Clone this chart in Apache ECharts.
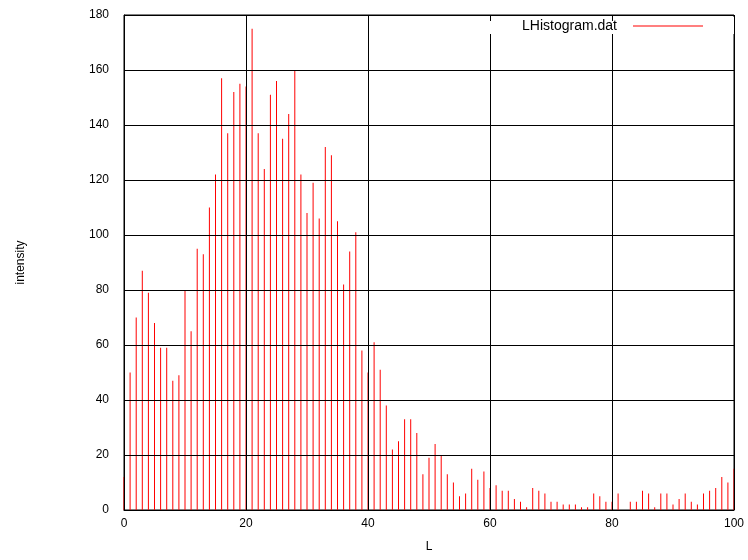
<!DOCTYPE html>
<html>
<head>
<meta charset="utf-8">
<script src="https://cdn.jsdelivr.net/npm/echarts@6/dist/echarts.min.js"></script>
<style>html,body{margin:0;padding:0;background:#fff;}#c{width:748px;height:560px;}</style>
</head>
<body>
<div id="c"></div>
<script>
const L = [0,1,2,3,4,5,6,7,8,9,10,11,12,13,14,15,16,17,18,19,20,21,22,23,24,25,26,27,28,29,30,31,32,33,34,35,36,37,38,39,40,41,42,43,44,45,46,47,48,49,50,51,52,53,54,55,56,57,58,59,60,61,62,63,64,65,66,67,68,69,70,71,72,73,74,75,76,77,78,79,80,81,82,83,84,85,86,87,88,89,90,91,92,93,94,95,96,97,98,99,100];
const intensity = [12,50,70,87,79,68,59,59,47,49,80,65,95,93,110,122,157,137,152,155,154,175,137,124,151,156,135,144,160,122,108,119,106,132,129,105,82,94,101,58,50,61,51,38,22,25,33,33,28,13,19,24,20,13,10,5,6,15,11,14,8,9,7,7,4,3,1,8,7,6,3,3,2,2,2,1,1,6,5,3,3,6,0,3,3,7,6,1,6,6,2,4,6,3,2,6,7,8,12,10,15];
const xTicks = [0,20,40,60,80,100];
const yTicks = [0,20,40,60,80,100,120,140,160,180];
const seriesName = 'LHistogram.dat';

const chart = echarts.init(document.getElementById('c'), null, {renderer:'canvas'});
const font = 'Liberation Sans, Arial, sans-serif';
chart.setOption({
  animation:false,
  backgroundColor:'#fff',
  textStyle:{fontFamily:font},
  grid:{left:124,right:14,top:15,bottom:50,show:true,borderColor:'#000',borderWidth:1,backgroundColor:'transparent'},
  legend:{
    show:true, right:14, top:17, align:'right',
    data:[{name:seriesName, icon:'rect'}],
    itemWidth:70, itemHeight:1,
    backgroundColor:'#fff',
    padding:[2,31,1,38],
    textStyle:{fontFamily:font,fontSize:14,color:'#000',padding:[0,11,0,0]},
    z:4
  },
  xAxis:[{
    type:'value', min:xTicks[0], max:xTicks[xTicks.length-1], interval:20,
    name:'L', nameLocation:'middle', nameGap:31,
    nameTextStyle:{fontFamily:font,fontSize:12,color:'#000'},
    axisLine:{show:true,lineStyle:{color:'#000',width:1}},
    axisTick:{show:true,inside:true,length:6,lineStyle:{color:'#000'}},
    axisLabel:{color:'#000',fontSize:12,fontFamily:font,margin:8},
    splitLine:{show:true,lineStyle:{color:'#000',width:1}},
    z:3
  },{
    type:'value', position:'top', min:0, max:100, interval:20,
    axisLine:{show:false}, axisLabel:{show:false},
    axisTick:{show:true,inside:true,length:6,lineStyle:{color:'#000'}},
    splitLine:{show:false}, z:5
  }],
  yAxis:{
    type:'value', min:yTicks[0], max:yTicks[yTicks.length-1], interval:20,
    name:'intensity', nameLocation:'middle', nameGap:97, nameRotate:90,
    nameTextStyle:{fontFamily:font,fontSize:12,color:'#000'},
    axisLine:{show:true,lineStyle:{color:'#000',width:1}},
    axisTick:{show:true,inside:true,length:6,lineStyle:{color:'#000'}},
    axisLabel:{color:'#000',fontSize:12,fontFamily:font,margin:15},
    splitLine:{show:true,lineStyle:{color:'#000',width:1}},
    z:3
  },
  series:[{
    name:seriesName, type:'bar', xAxisIndex:0,
    barWidth:1,
    itemStyle:{color:'#ff0000'},
    data:L.map((x,i)=>[x,intensity[i]]),
    z:2
  }]
});
</script>
</body>
</html>
